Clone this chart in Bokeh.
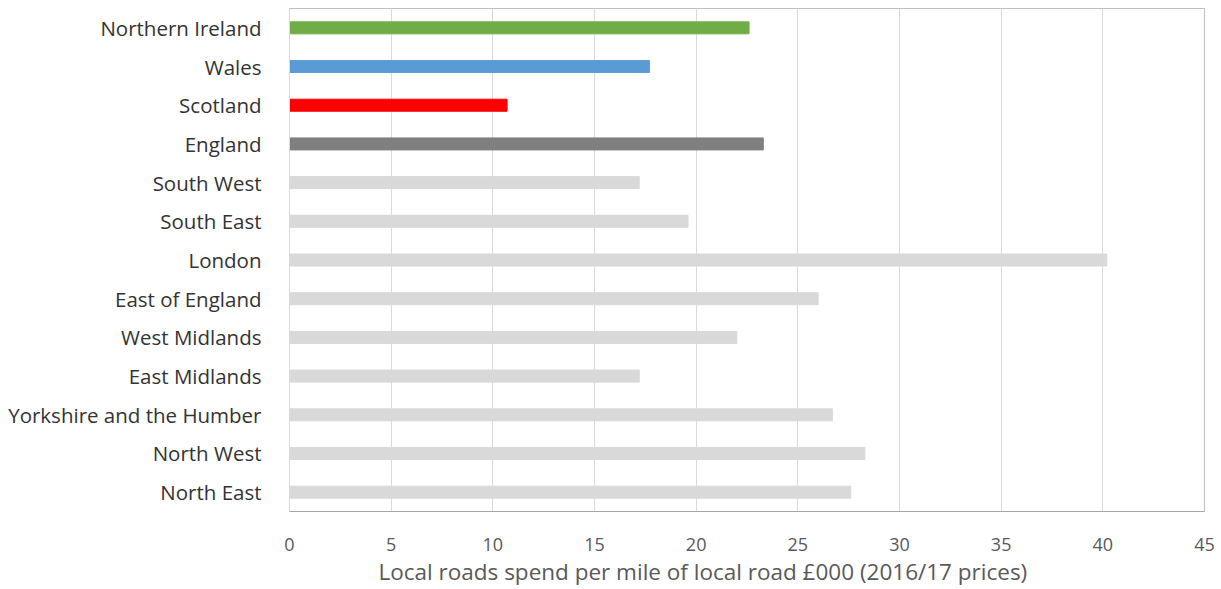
from bokeh.plotting import figure
from bokeh.models import ColumnDataSource, FactorRange, FixedTicker, Title
from bokeh.embed import file_html
from bokeh.resources import INLINE

regions = ["Northern Ireland", "Wales", "Scotland", "England", "South West", "South East",
           "London", "East of England", "West Midlands", "East Midlands",
           "Yorkshire and the Humber", "North West", "North East"]
spend = [22.6, 17.7, 10.7, 23.3, 17.2, 19.6, 40.2, 26.0, 22.0, 17.2, 26.7, 28.3, 27.6]
colors = ["#70ad47", "#5b9bd5", "#ff0000", "#7f7f7f"] + ["#d9d9d9"] * 9
x_ticks = [0, 5, 10, 15, 20, 25, 30, 35, 40, 45]
x_title = "Local roads spend per mile of local road £000 (2016/17 prices)"

src = ColumnDataSource(dict(region=regions, spend=spend, color=colors))

p = figure(width=1221, height=589, output_backend="svg", toolbar_location=None,
           y_range=FactorRange(factors=list(reversed(regions)), range_padding=0),
           x_range=(0, 45),
           min_border_left=289, min_border_right=17, min_border_top=8, min_border_bottom=78)

p.hbar(y="region", right="spend", left=0, height=0.31, color="color", source=src)

font = "Open Sans"
p.xaxis.ticker = FixedTicker(ticks=x_ticks)
p.xaxis.major_label_text_font = font
p.xaxis.major_label_text_font_size = "18px"
p.xaxis.major_label_text_color = "#595959"
p.xaxis.major_label_standoff = 20
p.xaxis.major_tick_line_color = None
p.xaxis.minor_tick_line_color = None
p.xaxis.axis_line_color = "#a6a6a6"

t = Title(text=x_title, align="left", offset=89, text_font=font, text_font_style="normal",
          text_font_size="22.5px", text_color="#595959", standoff=0)
p.add_layout(t, "below")

p.yaxis.major_label_text_font = font
p.yaxis.major_label_text_font_size = "20.5px"
p.yaxis.major_label_text_color = "#333333"
p.yaxis.major_label_standoff = 22
p.yaxis.major_tick_line_color = None
p.yaxis.axis_line_color = "#d9d9d9"

p.xgrid.grid_line_color = "#d9d9d9"
p.ygrid.grid_line_color = None
p.outline_line_color = "#bfbfbf"

open("out.html", "w").write(file_html(p, INLINE))
